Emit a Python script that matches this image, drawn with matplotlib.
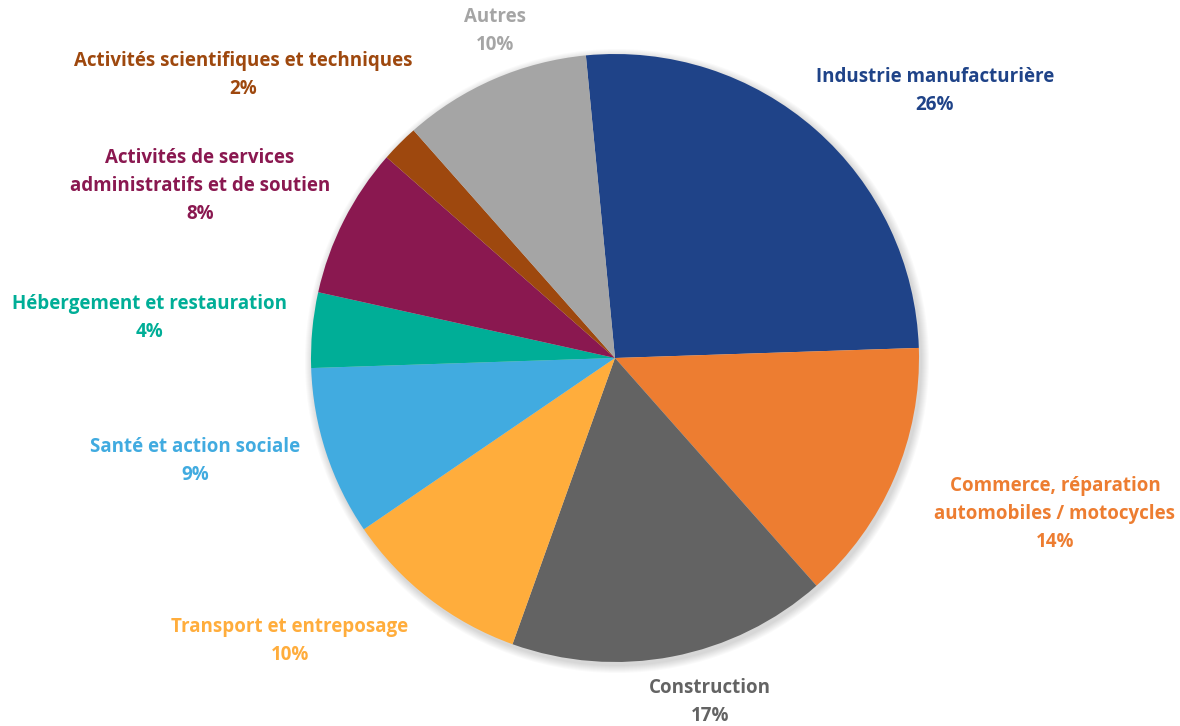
import matplotlib.pyplot as plt
from matplotlib.patches import Circle

# Secteurs d'activité (parts en %)
secteurs = ["Industrie manufacturière",
            "Commerce, réparation\nautomobiles / motocycles",
            "Construction",
            "Transport et entreposage",
            "Santé et action sociale",
            "Hébergement et restauration",
            "Activités de services\nadministratifs et de soutien",
            "Activités scientifiques et techniques",
            "Autres"]
parts = [26, 14, 17, 10, 9, 4, 8, 2, 10]
couleurs = ["#1F4388", "#ED7D31", "#636363", "#FFAD3C", "#41ABE0",
            "#00AE97", "#8A1850", "#9E480E", "#A5A5A5"]

# centre of the first label line, pixels (image coords)
label_pos = [(935, 77), (1055, 486), (710, 688), (290, 627), (195, 447),
             (150, 304), (200, 158), (243, 61), (495, 17)]
line_step = 28

W, H = 1180, 726
fig = plt.figure(figsize=(W / 100, H / 100), dpi=100)
ax = fig.add_axes([0, 0, 1, 1])

cx, cy, r = 615, H - 358, 304

# soft shadow
for i in range(8):
    ax.add_patch(Circle((cx + 2, cy - 3), r + 8 - i, color="black",
                        alpha=0.018, lw=0, zorder=0))

ax.pie(parts, colors=couleurs, startangle=95.5, counterclock=False,
       center=(cx, cy), radius=r, frame=True,
       wedgeprops=dict(linewidth=0, zorder=2))
ax.set_xlim(0, W)
ax.set_ylim(0, H)
ax.set_aspect("equal")
ax.axis("off")

for nom, p, c, (x, y) in zip(secteurs, parts, couleurs, label_pos):
    lignes = nom.split("\n") + [f"{p}%"]
    for i, t in enumerate(lignes):
        ax.text(x, H - (y + i * line_step), t, color=c, fontsize=13.5,
                fontfamily="Open Sans", fontweight="bold",
                ha="center", va="center")

fig.savefig("out.png", dpi=100)
